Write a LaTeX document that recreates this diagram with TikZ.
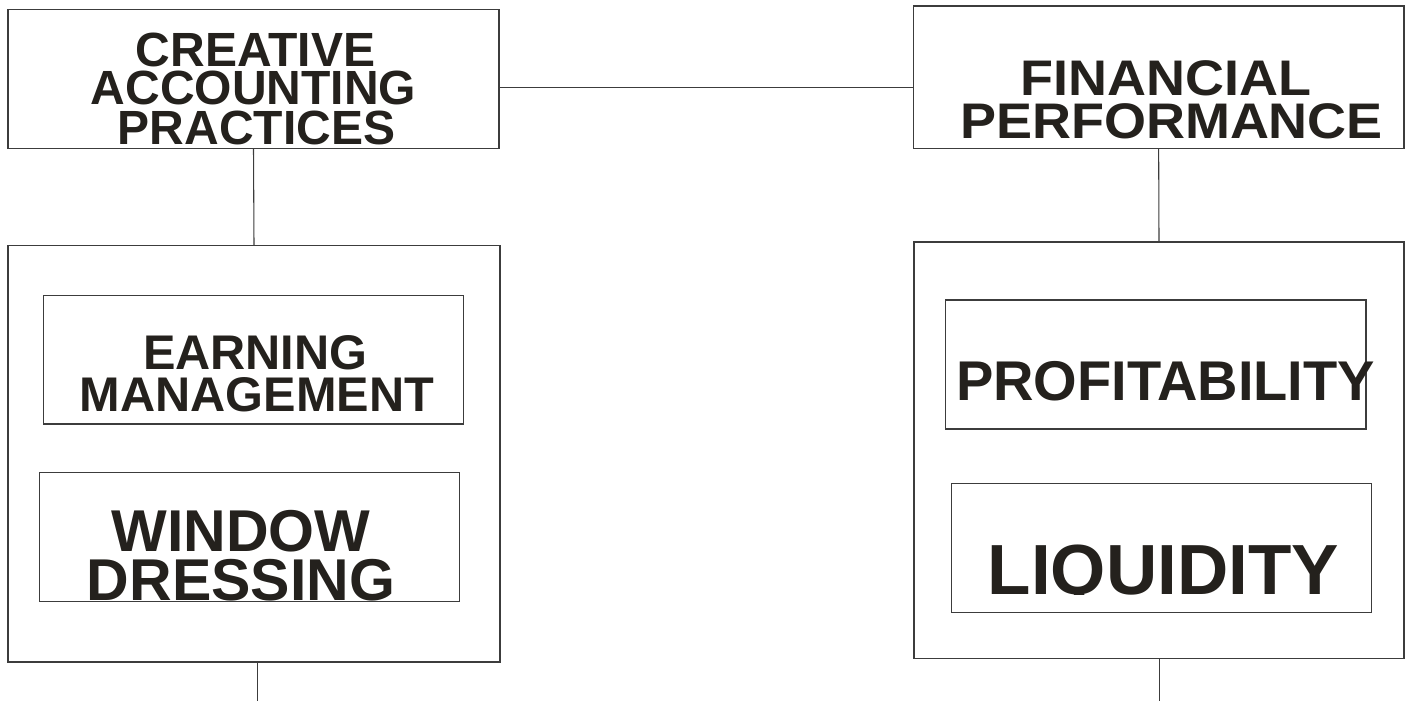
\documentclass[tikz,border=0pt]{standalone}
\usepackage{fontspec}
\setmainfont{Liberation Sans}
\usetikzlibrary{fit}
\definecolor{ink}{RGB}{36,33,29}
\definecolor{rule}{RGB}{60,60,60}
\tikzset{
  frame/.style={draw=rule, line width=0.8pt, inner sep=0pt},
  wire/.style={draw=rule, line width=0.8pt},
  lbl/.style={anchor=base, inner sep=0pt, text=ink,
    font=\bfseries\fontsize{#1}{#1}\selectfont},
}
\begin{document}
\begin{tikzpicture}[x=0.75pt, y=-0.75pt]
\useasboundingbox (0,0) rectangle (1405,701);

% ---- corner points of the frames ----
\coordinate (cA1) at (8,9.3);      \coordinate (cA2) at (499,148.7);
\coordinate (fA1) at (913.3,6);    \coordinate (fA2) at (1404,148.7);
\coordinate (lO1) at (8,245.3);    \coordinate (lO2) at (500,662);
\coordinate (em1) at (43.3,295.3); \coordinate (em2) at (463.3,424);
\coordinate (wd1) at (39.3,472.7); \coordinate (wd2) at (459.3,601.7);
\coordinate (rO1) at (914,242);    \coordinate (rO2) at (1404,658.3);
\coordinate (pf1) at (945.3,300);  \coordinate (pf2) at (1366,429);
\coordinate (lq1) at (951.7,483.3);\coordinate (lq2) at (1371.7,612.7);

% ---- frames ----
\node[frame, fit={(cA1)(cA2)}] (creative) {};
\node[frame, fit={(fA1)(fA2)}] (financial) {};
\node[frame, fit={(lO1)(lO2)}] (leftgroup) {};
\node[frame, fit={(em1)(em2)}] (earning) {};
\node[frame, fit={(wd1)(wd2)}] (window) {};
\node[frame, fit={(rO1)(rO2)}] (rightgroup) {};
\node[frame, fit={(pf1)(pf2)}] (profit) {};
\node[frame, fit={(lq1)(lq2)}] (liquid) {};

% ---- connectors ----
\coordinate (link) at (499,87.7);
\draw[wire] (link) -- (link -| financial.west);
\draw[wire] (creative.south) -- (leftgroup.north);
\draw[wire] (financial.south) -- (rightgroup.north);
\coordinate (leftfoot) at (257.7,701);
\coordinate (rightfoot) at (1159.3,701);
\draw[wire] (leftfoot |- leftgroup.south) -- (leftfoot);
\draw[wire] (rightfoot |- rightgroup.south) -- (rightfoot);

% ---- texts (each text frame cuts off what runs past its lower edge) ----
\begin{scope}
  \clip (0,9.3) rectangle (1405,146);
  \node[lbl=36] (t-creative) at (255.5,66) {CREATIVE};
  \node[lbl=36] (t-accounting) at (253.5,104) {ACCOUNTING};
  \node[lbl=36] (t-practices) at (256.5,144) {PRACTICES};
\end{scope}

\node[lbl=37.5] (t-financial) at (1165.8,95) {\scalebox{1.08}[1]{FINANCIAL}};
\node[lbl=37.5] (t-performance) at (1171.5,138) {\scalebox{1.08}[1]{PERFORMANCE}};

\begin{scope}
  \clip (0,295.3) rectangle (1405,412);
  \node[lbl=36.5] (t-earning) at (255.3,369.3) {EARNING};
  \node[lbl=36.5] (t-management) at (257,411.7) {MANAGEMENT};
\end{scope}

\begin{scope}
  \clip (0,472.7) rectangle (1405,600.8);
  \node[lbl=44.25] (t-window) at (241,551.7) {WINDOW};
  \node[lbl=44.25] (t-dressing) at (241,600.5) {DRESSING};
\end{scope}

\begin{scope}
  \clip (0,300) rectangle (1405,400.5);
  \node[lbl=42] (t-profit) at (1165.5,400) {PROFITABILITY};
\end{scope}

\begin{scope}
  \clip (0,483.3) rectangle (1405,594.3);
  \node[lbl=53.25] (t-liquid) at (1163.3,594) {LIQUIDITY};
\end{scope}
\end{tikzpicture}
\end{document}
